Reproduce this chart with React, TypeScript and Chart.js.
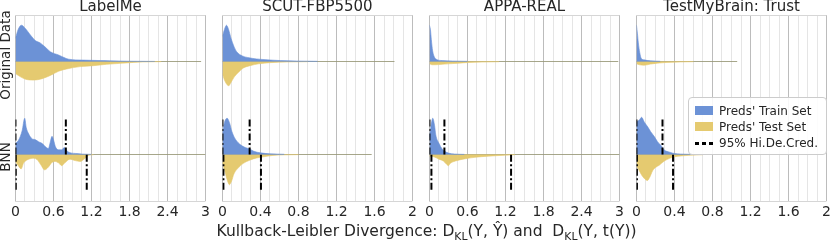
import React, { useEffect, useRef } from 'react';
import { Chart, registerables } from 'chart.js';

Chart.register(...registerables);

const FONT = "'DejaVu Sans', sans-serif";
const TEXT = '#262626';
const BLUE = 'rgb(108,146,214)';
const YELLOW = 'rgb(229,202,112)';
const TAIL = 'rgba(150,150,118,0.85)';
const MAJOR = 'rgb(188,188,188)';
const MINOR = 'rgb(229,229,229)';
const FRAME = 'rgb(214,214,214)';

// ---- panel setup ----
const titles = ['LabelMe', 'SCUT-FBP5500', 'APPA-REAL', 'TestMyBrain: Trust'];
const xMax = [3, 2, 3, 2];
const majorStep = [0.6, 0.4, 0.6, 0.4];
const minorStep = [0.15, 0.1, 0.15, 0.1];
const panelLeft = [15, 222, 429, 636];

// ---- densities: [KL value, density (fraction of half-row height)] ----
const lmOrigTrain = [[0, 0.5], [0.04, 0.68], [0.094, 0.78], [0.157, 0.71], [0.236, 0.57], [0.314, 0.45], [0.39, 0.4], [0.47, 0.31], [0.55, 0.21], [0.68, 0.14], [0.84, 0.05], [1.07, 0.03], [1.34, 0.02], [1.49, 0.015], [1.8, 0.006], [2.2, 0.002]];
const lmOrigTest = [[0, 0.26], [0.08, 0.33], [0.157, 0.38], [0.29, 0.4], [0.42, 0.37], [0.55, 0.3], [0.68, 0.21], [0.81, 0.16], [1.02, 0.11], [1.23, 0.09], [1.44, 0.06], [1.65, 0.04], [1.86, 0.02], [2.0, 0.01], [2.3, 0.003]];
const lmBnnTrain = [[0, 0.24], [0.05, 0.31], [0.105, 0.51], [0.146, 0.78], [0.17, 0.58], [0.21, 0.44], [0.26, 0.34], [0.31, 0.32], [0.37, 0.27], [0.42, 0.24], [0.47, 0.17], [0.52, 0.13], [0.55, 0.27], [0.576, 0.39], [0.6, 0.32], [0.63, 0.17], [0.68, 0.1], [0.73, 0.1], [0.77, 0.15], [0.81, 0.08], [0.86, 0.04], [0.97, 0.02], [1.05, 0.01], [1.2, 0.003]];
const lmBnnTest = [[0, 0.15], [0.05, 0.25], [0.09, 0.31], [0.13, 0.18], [0.21, 0.1], [0.29, 0.08], [0.34, 0.11], [0.4, 0.22], [0.46, 0.33], [0.52, 0.27], [0.576, 0.17], [0.63, 0.15], [0.68, 0.18], [0.73, 0.24], [0.78, 0.18], [0.86, 0.1], [0.94, 0.13], [1.02, 0.15], [1.1, 0.08], [1.15, 0.02], [1.23, 0.005]];

const scutOrigTrain = [[0, 0.54], [0.021, 0.69], [0.042, 0.78], [0.066, 0.68], [0.09, 0.5], [0.12, 0.33], [0.15, 0.21], [0.21, 0.12], [0.28, 0.08], [0.36, 0.055], [0.47, 0.035], [0.61, 0.02], [0.78, 0.01], [1.0, 0.004]];
const scutOrigTest = [[0, 0.26], [0.021, 0.4], [0.049, 0.5], [0.066, 0.52], [0.09, 0.45], [0.125, 0.33], [0.17, 0.23], [0.22, 0.14], [0.29, 0.09], [0.38, 0.05], [0.5, 0.025], [0.68, 0.01], [0.9, 0.004]];
const scutBnnTrain = [[0, 0.45], [0.021, 0.69], [0.049, 0.78], [0.073, 0.69], [0.1, 0.49], [0.136, 0.33], [0.19, 0.21], [0.24, 0.15], [0.286, 0.12], [0.33, 0.07], [0.4, 0.035], [0.5, 0.015], [0.65, 0.005]];
const scutBnnTest = [[0, 0.17], [0.028, 0.38], [0.052, 0.56], [0.073, 0.65], [0.098, 0.56], [0.12, 0.42], [0.17, 0.28], [0.22, 0.19], [0.29, 0.12], [0.36, 0.075], [0.43, 0.05], [0.53, 0.02], [0.64, 0.008], [0.8, 0.003]];

const appaOrigTrain = [[0, 0.78], [0.016, 0.68], [0.03, 0.47], [0.05, 0.23], [0.08, 0.09], [0.12, 0.04], [0.2, 0.02], [0.36, 0.01], [0.6, 0.004]];
const appaOrigTest = [[0, 0.05], [0.04, 0.07], [0.09, 0.07], [0.2, 0.06], [0.36, 0.045], [0.57, 0.025], [0.83, 0.012], [1.1, 0.005]];
const appaBnnTrain = [[0, 0.38], [0.026, 0.63], [0.052, 0.78], [0.08, 0.63], [0.1, 0.42], [0.15, 0.24], [0.2, 0.12], [0.24, 0.07], [0.3, 0.03], [0.4, 0.01], [0.55, 0.003]];
const appaBnnTest = [[0, 0.035], [0.07, 0.05], [0.15, 0.1], [0.22, 0.14], [0.27, 0.21], [0.3, 0.24], [0.33, 0.19], [0.41, 0.14], [0.57, 0.09], [0.72, 0.06], [0.93, 0.035], [1.19, 0.015], [1.35, 0.005]];

const tmbOrigTrain = [[0, 0.78], [0.01, 0.61], [0.02, 0.4], [0.035, 0.19], [0.05, 0.07], [0.08, 0.035], [0.15, 0.015], [0.25, 0.005]];
const tmbOrigTest = [[0, 0.05], [0.03, 0.07], [0.08, 0.08], [0.15, 0.055], [0.22, 0.035], [0.32, 0.02], [0.46, 0.01], [0.6, 0.004]];
const tmbBnnTrain = [[0, 0.7], [0.03, 0.74], [0.054, 0.8], [0.082, 0.7], [0.12, 0.59], [0.15, 0.49], [0.19, 0.38], [0.22, 0.28], [0.26, 0.19], [0.29, 0.1], [0.35, 0.05], [0.4, 0.02], [0.46, 0.01], [0.6, 0.003]];
const tmbBnnTest = [[0, 0.24], [0.03, 0.35], [0.054, 0.44], [0.08, 0.51], [0.115, 0.56], [0.14, 0.49], [0.17, 0.35], [0.2, 0.28], [0.24, 0.23], [0.27, 0.175], [0.31, 0.12], [0.35, 0.08], [0.4, 0.05], [0.47, 0.03], [0.57, 0.015], [0.7, 0.005]];

const origTrain = [lmOrigTrain, scutOrigTrain, appaOrigTrain, tmbOrigTrain];
const origTest = [lmOrigTest, scutOrigTest, appaOrigTest, tmbOrigTest];
const bnnTrain = [lmBnnTrain, scutBnnTrain, appaBnnTrain, tmbBnnTrain];
const bnnTest = [lmBnnTest, scutBnnTest, appaBnnTest, tmbBnnTest];

// end of the thin tail of each density
const origTail = [2.93, 1.81, 2.98, 1.06];
const bnnTail = [3.0, 1.57, 3.0, 1.0];

// 95% highest density credible intervals (BNN row)
const hdiTrain = [[0, 0.795], [0, 0.286], [0, 0.236], [0, 0.274]];
const hdiTest = [[0.005, 1.125], [0.01, 0.405], [0.031, 1.288], [0.005, 0.385]];
const HDI_LEN = 0.76;

const ORIG_BASE = 1;
const BNN_BASE = -1;

const near = (v: number, step: number) => Math.abs(v / step - Math.round(v / step)) < 1e-6;

function Panel({ i }: { i: number }) {
  const ref = useRef<HTMLCanvasElement>(null);
  useEffect(() => {
    if (!ref.current) return;
    const pts = (arr: number[][], base: number, sign: number) => arr.map(([x, d]) => ({ x, y: base + sign * d }));
    const dens = (arr: number[][], base: number, sign: number, color: string) => ({
      data: pts(arr, base, sign),
      fill: { value: base },
      backgroundColor: color,
      borderColor: color,
      borderWidth: 0.6,
      pointRadius: 0,
      cubicInterpolationMode: 'monotone',
      order: 3,
    });
    const tail = (end: number, base: number) => ({
      data: [{ x: 0, y: base }, { x: end, y: base }],
      borderColor: TAIL,
      borderWidth: 1,
      pointRadius: 0,
      fill: false,
      order: 4,
    });
    const vline = (x: number, base: number, sign: number) => ({
      data: sign > 0 ? [{ x, y: base }, { x, y: base + HDI_LEN }] : [{ x, y: base - HDI_LEN }, { x, y: base }],
      borderColor: '#000',
      borderWidth: 2,
      borderDash: [7, 2.5, 2, 2.5],
      pointRadius: 0,
      fill: false,
      order: 0,
    });
    const datasets: any[] = [
      tail(origTail[i], ORIG_BASE),
      tail(bnnTail[i], BNN_BASE),
      dens(origTrain[i], ORIG_BASE, 1, BLUE),
      dens(origTest[i], ORIG_BASE, -1, YELLOW),
      dens(bnnTrain[i], BNN_BASE, 1, BLUE),
      dens(bnnTest[i], BNN_BASE, -1, YELLOW),
      ...hdiTrain[i].map((v) => vline(v, BNN_BASE, 1)),
      ...hdiTest[i].map((v) => vline(v, BNN_BASE, -1)),
    ];
    const major = majorStep[i];
    const chart = new Chart(ref.current, {
      type: 'line',
      data: { datasets },
      options: {
        animation: false,
        responsive: false,
        events: [],
        layout: { padding: { left: 8, right: 8, top: 0, bottom: 0 } },
        plugins: {
          legend: { display: false },
          tooltip: { enabled: false },
          title: {
            display: true,
            text: titles[i],
            color: TEXT,
            font: { family: FONT, size: 15, weight: 'normal', lineHeight: 1 },
            padding: { top: 0, bottom: 0 },
          },
        },
        scales: {
          x: {
            type: 'linear',
            min: 0,
            max: xMax[i],
            border: { display: false },
            grid: {
              drawTicks: false,
              lineWidth: 1,
              color: (ctx: any) => (near(ctx.tick.value, major) ? MAJOR : MINOR),
            },
            ticks: {
              stepSize: minorStep[i],
              maxTicksLimit: 1000,
              autoSkip: false,
              maxRotation: 0,
              minRotation: 0,
              padding: 4,
              color: TEXT,
              font: { family: FONT, size: 14, lineHeight: 1 },
              callback: (v: any) => {
                const n = Number(v);
                if (!near(n, major)) return '';
                const r = Math.round(n * 10) / 10;
                return r % 1 === 0 ? String(r) : r.toFixed(1);
              },
            },
          },
          y: {
            min: -2,
            max: 2,
            border: { display: false },
            ticks: { display: false, stepSize: 2 },
            grid: {
              drawTicks: false,
              color: (ctx: any) => (Math.abs(ctx.tick.value) === 2 ? FRAME : 'rgba(0,0,0,0)'),
            },
          },
        },
      } as any,
    });
    return () => chart.destroy();
  }, [i]);
  return (
    <canvas
      ref={ref}
      width={207}
      height={223}
      style={{ position: 'absolute', left: panelLeft[i] - 8, top: 0, width: 207, height: 223 }}
    />
  );
}

const rowLabels = [
  { text: 'Original Data', y: 55 },
  { text: 'BNN', y: 157 },
];

const legendItems = [
  { label: "Preds' Train Set", kind: 'patch', color: BLUE },
  { label: "Preds' Test Set", kind: 'patch', color: YELLOW },
  { label: '95% Hi.De.Cred.', kind: 'dash', color: '#000' },
];

const subStyle = { fontSize: '0.7em', position: 'relative' as const, top: 3.5 };

export default function App() {
  return (
    <div
      style={{
        position: 'fixed',
        left: 0,
        top: 0,
        width: 830,
        height: 250,
        background: '#fff',
        overflow: 'hidden',
        fontFamily: FONT,
        color: TEXT,
      }}
    >
      {titles.map((_, i) => (
        <Panel key={i} i={i} />
      ))}
      {rowLabels.map((r) => (
        <div
          key={r.text}
          style={{
            position: 'absolute',
            left: 6,
            top: r.y,
            transform: 'translate(-50%, -50%) rotate(-90deg)',
            whiteSpace: 'nowrap',
            fontSize: 13.5,
            lineHeight: 1,
          }}
        >
          {r.text}
        </div>
      ))}
      <div
        style={{
          position: 'absolute',
          left: 426.5,
          top: 224,
          transform: 'translateX(-50%)',
          whiteSpace: 'pre',
          fontSize: 15.5,
          lineHeight: 1,
        }}
      >
        {'Kullback-Leibler Divergence: D'}
        <span style={subStyle}>KL</span>
        {'(Y, Ŷ) and  D'}
        <span style={subStyle}>KL</span>
        {'(Y, t(Y))'}
      </div>
      <div
        style={{
          position: 'absolute',
          left: 688,
          top: 97,
          width: 139,
          height: 58,
          boxSizing: 'border-box',
          border: '1px solid rgb(204,204,204)',
          borderRadius: 4,
          background: 'rgba(255,255,255,0.88)',
          fontSize: 12,
          lineHeight: 1,
        }}
      >
        {legendItems.map((it, k) => {
          const cy = 12.5 + k * 16.3;
          return (
            <React.Fragment key={it.label}>
              {it.kind === 'patch' ? (
                <div
                  style={{
                    position: 'absolute',
                    left: 6,
                    top: cy - 4.5,
                    width: 18,
                    height: 9,
                    background: it.color,
                  }}
                />
              ) : (
                [0, 1, 2].map((d) => (
                  <div
                    key={d}
                    style={{
                      position: 'absolute',
                      left: 6 + d * 7,
                      top: cy - 1.5,
                      width: 4,
                      height: 3,
                      background: it.color,
                    }}
                  />
                ))
              )}
              <div style={{ position: 'absolute', left: 30, top: cy - 6, whiteSpace: 'nowrap' }}>{it.label}</div>
            </React.Fragment>
          );
        })}
      </div>
    </div>
  );
}
